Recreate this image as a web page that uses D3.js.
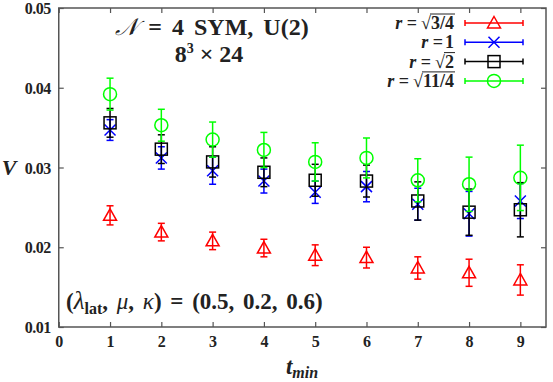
<!DOCTYPE html>
<html>
<head>
<meta charset="utf-8">
<script src="https://cdn.jsdelivr.net/npm/d3@7"></script>
<style>
  body { margin: 0; background: #fff; }
  svg text { font-family: "Liberation Serif", "DejaVu Serif", serif; font-weight: bold; }
</style>
</head>
<body>
<div id="chart"></div>
<script>
// t_min values and the four series (value, error)
const tmin = [1, 2, 3, 4, 5, 6, 7, 8, 9];
const vRed   = [0.0240, 0.0219, 0.0208, 0.0199, 0.0190, 0.0187, 0.0174, 0.0168, 0.0159];
const eRed   = [0.0012, 0.0011, 0.0011, 0.0011, 0.0013, 0.0013, 0.0014, 0.0017, 0.0019];
const vBlue  = [0.0347, 0.0312, 0.0296, 0.0283, 0.0269, 0.0276, 0.0254, 0.0242, 0.0258];
const eBlue  = [0.0013, 0.0014, 0.0017, 0.0015, 0.0014, 0.0019, 0.0020, 0.0028, 0.0022];
const vBlack = [0.0356, 0.0323, 0.0307, 0.0294, 0.0284, 0.0283, 0.0258, 0.0244, 0.0247];
const eBlack = [0.0018, 0.0018, 0.0019, 0.0018, 0.0020, 0.0020, 0.0024, 0.0029, 0.0034];
const vGreen = [0.0392, 0.0353, 0.0335, 0.0322, 0.0307, 0.0312, 0.0284, 0.0279, 0.0287];
const eGreen = [0.0020, 0.0020, 0.0022, 0.0022, 0.0024, 0.0025, 0.0027, 0.0034, 0.0041];

const xTicks = [0, 1, 2, 3, 4, 5, 6, 7, 8, 9];
const yTicks = [0.01, 0.02, 0.03, 0.04, 0.05];

const seriesNames = ["3/4", "1", "2", "11/4"]; // radicands / plain label
const seriesRoot  = [true, false, true, true];
const seriesColor = ["#ff0000", "#0000ff", "#000000", "#00ff00"];
const seriesShape = ["triangle", "cross", "square", "circle"];
const seriesV = [vRed, vBlue, vBlack, vGreen];
const seriesE = [eRed, eBlue, eBlack, eGreen];

const width = 553, height = 382;
const margin = {left: 58.75, right: 7, top: 8, bottom: 55};

const svg = d3.select("#chart").append("svg")
  .attr("width", width)
  .attr("height", height);

const x = d3.scaleLinear().domain([0, 9.5]).range([margin.left, width - margin.right]);
const y = d3.scaleLinear().domain([0.01, 0.05]).range([height - margin.bottom, margin.top]);

const frameColor = "#555";

// ticks (inward, mirrored)
const gx = svg.append("g").attr("transform", `translate(0,${y(0.01)})`)
  .call(d3.axisBottom(x).tickValues(xTicks).tickSize(-5).tickPadding(9).tickFormat(d3.format("d")));
const gxTop = svg.append("g").attr("transform", `translate(0,${y(0.05)})`)
  .call(d3.axisTop(x).tickValues(xTicks).tickSize(-5).tickFormat(""));
const gy = svg.append("g").attr("transform", `translate(${x(0)},0)`)
  .call(d3.axisLeft(y).tickValues(yTicks).tickSize(-5).tickPadding(8).tickFormat(d3.format(".2f")));
const gyRight = svg.append("g").attr("transform", `translate(${x(9.5)},0)`)
  .call(d3.axisRight(y).tickValues(yTicks).tickSize(-5).tickFormat(""));

[gx, gxTop, gy, gyRight].forEach(g => {
  g.select(".domain").remove();
  g.selectAll(".tick line").attr("stroke", frameColor).attr("stroke-width", 1.2);
  g.selectAll("text").attr("fill", "#222").style("font-size", "16px")
    .style("font-family", "'Liberation Serif', serif").style("font-weight", "bold");
});
gy.selectAll("text").attr("dy", "0.35em").style("letter-spacing", "-0.5px");

// frame
svg.append("rect")
  .attr("x", x(0)).attr("y", y(0.05))
  .attr("width", x(9.5) - x(0)).attr("height", y(0.01) - y(0.05))
  .attr("fill", "none").attr("stroke", frameColor).attr("stroke-width", 1.5);

// marker drawing
function drawMarker(g, shape, color, cx, cy) {
  const s = 1.5;
  if (shape === "triangle") {
    g.append("path").attr("d", `M${cx},${cy - 6.5}L${cx + 6.5},${cy + 5}L${cx - 6.5},${cy + 5}Z`)
      .attr("fill", "none").attr("stroke", color).attr("stroke-width", s);
  } else if (shape === "cross") {
    g.append("path").attr("d", `M${cx - 5.5},${cy - 5.5}L${cx + 5.5},${cy + 5.5}M${cx - 5.5},${cy + 5.5}L${cx + 5.5},${cy - 5.5}`)
      .attr("stroke", color).attr("stroke-width", s);
  } else if (shape === "square") {
    g.append("rect").attr("x", cx - 6).attr("y", cy - 6).attr("width", 12).attr("height", 12)
      .attr("fill", "none").attr("stroke", color).attr("stroke-width", s);
  } else {
    g.append("circle").attr("cx", cx).attr("cy", cy).attr("r", 6.5)
      .attr("fill", "none").attr("stroke", color).attr("stroke-width", s);
  }
}

// series with error bars
seriesV.forEach((vals, i) => {
  const g = svg.append("g");
  const color = seriesColor[i];
  vals.forEach((v, j) => {
    const cx = x(tmin[j]);
    const e = seriesE[i][j];
    const y1 = y(v + e), y2 = y(v - e);
    drawMarker(g, seriesShape[i], color, cx, y(v));
    g.append("line").attr("x1", cx).attr("x2", cx).attr("y1", y1).attr("y2", y2)
      .attr("stroke", color).attr("stroke-width", 1.5);
    [y1, y2].forEach(yy => g.append("line")
      .attr("x1", cx - 3.5).attr("x2", cx + 3.5).attr("y1", yy).attr("y2", yy)
      .attr("stroke", color).attr("stroke-width", 1.5));
  });
});

// legend
const legTextRight = 454, legLineX1 = 465, legLineX2 = 523;
const legY0 = 23, legDy = 19.3;
seriesNames.forEach((name, i) => {
  const ly = legY0 + i * legDy;
  const color = seriesColor[i];
  const g = svg.append("g");
  g.append("line").attr("x1", legLineX1).attr("x2", legLineX2).attr("y1", ly).attr("y2", ly)
    .attr("stroke", color).attr("stroke-width", 1.5);
  [legLineX1, legLineX2].forEach(xx => g.append("line")
    .attr("x1", xx).attr("x2", xx).attr("y1", ly - 3).attr("y2", ly + 3)
    .attr("stroke", color).attr("stroke-width", 1.5));
  drawMarker(g, seriesShape[i], color, (legLineX1 + legLineX2) / 2, ly);

  const baseY = ly + 6;
  const rad = g.append("text").attr("x", legTextRight).attr("y", baseY)
    .attr("text-anchor", "end").style("font-size", "18px").attr("fill", "#222").text(name);
  let left = legTextRight - rad.node().getComputedTextLength();
  if (seriesRoot[i]) {
    g.append("line").attr("x1", left - 1).attr("x2", legTextRight + 1)
      .attr("y1", baseY - 15).attr("y2", baseY - 15).attr("stroke", "#222").attr("stroke-width", 1);
    const sq = g.append("text").attr("x", left).attr("y", baseY)
      .attr("text-anchor", "end").style("font-size", "18px").style("font-weight", "normal")
      .attr("fill", "#222").text("√");
    left -= sq.node().getComputedTextLength() + 4;
  } else {
    left -= 2;
  }
  g.append("text").attr("x", left).attr("y", baseY)
    .attr("text-anchor", "end").style("font-size", "18px").attr("fill", "#222")
    .html('<tspan font-style="italic">r</tspan> =');
});

// title
svg.append("text").attr("x", 212).attr("y", 35).attr("text-anchor", "middle")
  .style("font-size", "24px").style("word-spacing", "4px").attr("fill", "#222")
  .html('<tspan font-style="italic" font-family="DejaVu Serif" font-weight="normal">𝒩</tspan> = 4 SYM, U(2)');
svg.append("text").attr("x", 209).attr("y", 62).attr("text-anchor", "middle")
  .style("font-size", "24px").attr("fill", "#222")
  .html('8<tspan dy="-9" font-size="14px">3</tspan><tspan dy="9"> × 24</tspan>');

// parameter annotation
svg.append("text").attr("x", 66).attr("y", 309)
  .style("font-size", "23px").style("word-spacing", "3px").attr("fill", "#222")
  .html('(<tspan font-style="italic" font-weight="normal" font-size="25px">λ</tspan><tspan dy="5" font-size="16px">lat</tspan><tspan dy="-5">, </tspan><tspan font-style="italic" font-weight="normal">μ</tspan>, <tspan font-style="italic" font-weight="normal">κ</tspan>) = (0.5, 0.2, 0.6)');

// axis titles
svg.append("text").attr("x", 302).attr("y", 374).attr("text-anchor", "middle")
  .style("font-size", "23px").attr("fill", "#222")
  .html('<tspan font-style="italic">t</tspan><tspan dy="4" font-size="16px" font-style="italic">min</tspan>');
svg.append("text").attr("x", 9).attr("y", 175).attr("text-anchor", "middle")
  .style("font-size", "22px").style("font-style", "italic").attr("fill", "#222").text("V");
</script>
</body>
</html>
